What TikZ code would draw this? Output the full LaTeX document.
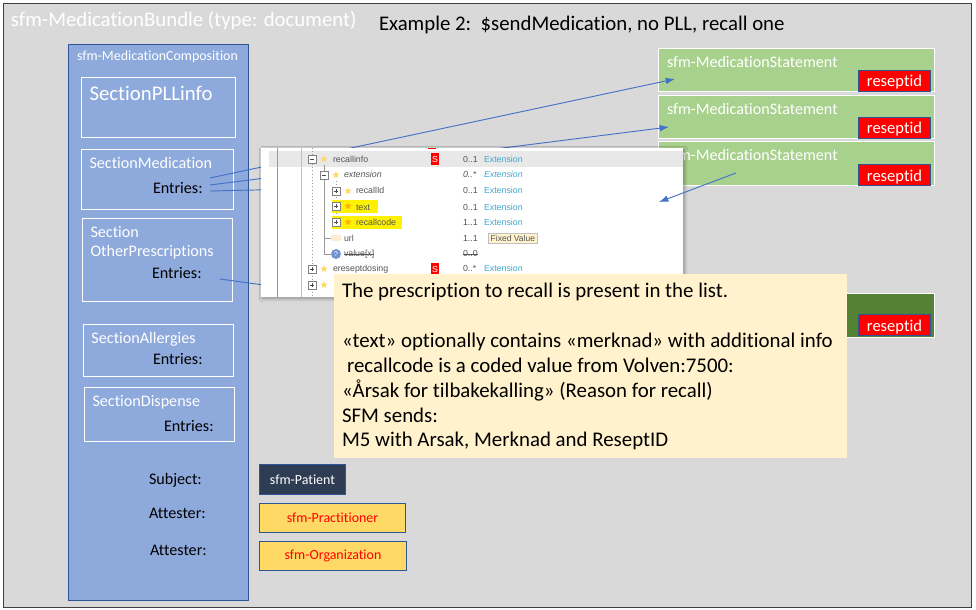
\documentclass[tikz,border=0pt]{standalone}
\usepackage{fontspec}
\setmainfont[Ligatures=NoCommon]{Carlito}
\newfontfamily\shotfont{Liberation Sans}
\usetikzlibrary{shadows,shadows.blur,shapes.geometric,calc,arrows.meta}
\definecolor{bggray}{HTML}{D9D9D9}
\definecolor{blueA}{HTML}{8EA9DB}
\definecolor{blueB}{HTML}{2F5597}
\definecolor{line}{HTML}{4472C4}
\definecolor{greenA}{HTML}{A9D18E}
\definecolor{greenB}{HTML}{548235}
\definecolor{beige}{HTML}{FFF2CC}
\definecolor{navy}{HTML}{2F3D54}
\definecolor{gold}{HTML}{FFD966}
\definecolor{link}{HTML}{3FA9CF}
\definecolor{shottxt}{HTML}{555555}
\tikzset{
  x=0.75pt,y=-0.75pt,
  px/.style={inner sep=0pt,outer sep=0pt},
  box/.style={px,draw=white,line width=0.9pt,fill=none},
  wtxt/.style={px,anchor=base west,text=white},
  btxt/.style={px,anchor=base west,text=black,font=\fontsize{12.1}{13}\selectfont},
  stmt/.style={px,draw=white,line width=0.9pt,fill=greenA},
  rid/.style={px,draw=blueB,line width=0.9pt,fill=red,text=white,font=\fontsize{12.4}{13}\selectfont},
  conn/.style={draw=line,line width=0.7pt},
  arr/.style={conn,-{Latex[length=7pt,width=5pt]}},
  sname/.style={px,anchor=base west,font=\shotfont\fontsize{6.6}{7}\selectfont,text=shottxt},
  scard/.style={px,anchor=base west,font=\shotfont\fontsize{6.6}{7}\selectfont,text=shottxt},
  stype/.style={px,anchor=base west,font=\shotfont\fontsize{6.6}{7}\selectfont,text=link},
  sstar/.style={px,star,star points=5,star point ratio=2.2,minimum size=5.5pt,fill=gold},
  ssq/.style={px,draw=gray,fill=white,minimum size=6pt,line width=0.35pt},
  sflag/.style={px,fill=red,text=white,minimum width=6.5pt,minimum height=9pt,font=\shotfont\fontsize{6.6}{7}\selectfont},
  hl/.style={draw=yellow,line width=9.5pt},
  guide/.style={draw=gray!80,line width=0.4pt},
  note/.style={px,anchor=base west,text=black,font=\fontsize{15.65}{17}\selectfont},
  sect/.style={wtxt,font=\fontsize{12.1}{13}\selectfont},
  stit/.style={wtxt,font=\fontsize{12.05}{13}\selectfont},
  res/.style={px,draw=blueB,line width=0.8pt,font=\fontsize{10.45}{12}\selectfont,anchor=north west},
}
\begin{document}
\begin{tikzpicture}
\useasboundingbox (0,0) rectangle (976,610);
\fill[white] (0,0) rectangle (976,610);
\node[px,draw=black!75,line width=0.7pt,fill=bggray,minimum width=968*0.75pt,minimum height=604*0.75pt,anchor=north west] (bundle) at (3,3) {};
\node[wtxt,font=\fontsize{15.6}{17}\selectfont] (bundletitle) at (11,27) {sfm-MedicationBundle (type: document)};
\node[px,anchor=base west,text=black,font=\fontsize{15.6}{17}\selectfont] (example) at (379,31) {Example 2:\ \ \$sendMedication, no PLL, recall one};

% composition
\node[px,draw=blueB,line width=0.8pt,fill=blueA,minimum width=180*0.75pt,minimum height=556*0.75pt,anchor=north west] (comp) at (68.5,44.5) {};
\node[wtxt,font=\fontsize{10.45}{12}\selectfont] (comptitle) at (77,61) {sfm-MedicationComposition};

\node[box,minimum width=154*0.75pt,minimum height=60*0.75pt,anchor=north west] (pll) at (81.5,77.5) {};
\node[wtxt,font=\fontsize{15.6}{17}\selectfont] (plltxt) at (89.5,101) {SectionPLLinfo};

\node[box,minimum width=152*0.75pt,minimum height=60*0.75pt,anchor=north west] (med) at (81.5,149.5) {};
\node[sect] (medtxt) at (89.5,169) {SectionMedication};
\node[btxt] (medent) at (153,194) {Entries:};

\node[box,minimum width=150*0.75pt,minimum height=83*0.75pt,anchor=north west] (other) at (82.5,218.5) {};
\node[sect] (othertxt) at (90.5,238) {Section};
\node[sect] (othertxtb) at (90.5,257) {OtherPrescriptions};
\node[btxt] (otherent) at (152,278) {Entries:};

\node[box,minimum width=150*0.75pt,minimum height=52*0.75pt,anchor=north west] (all) at (83.5,324.5) {};
\node[sect] (alltxt) at (91.5,343) {SectionAllergies};
\node[btxt] (allent) at (153,364) {Entries:};

\node[box,minimum width=150*0.75pt,minimum height=54*0.75pt,anchor=north west] (disp) at (84.5,387.5) {};
\node[sect] (disptxt) at (92.5,406) {SectionDispense};
\node[btxt] (dispent) at (164,431) {Entries:};

\node[btxt] (subj) at (149,484) {Subject:};
\node[btxt] (att1) at (149,518) {Attester:};
\node[btxt] (att2) at (150,555) {Attester:};

% statements
\node[stmt,minimum width=276*0.75pt,minimum height=43*0.75pt,anchor=north west] (s1) at (658.5,48.5) {};
\node[stmt,minimum width=276*0.75pt,minimum height=43*0.75pt,anchor=north west] (s2) at (658.5,95.5) {};
\node[stmt,minimum width=276*0.75pt,minimum height=44*0.75pt,anchor=north west] (s3) at (658.5,141.5) {};
\node[stmt,fill=greenB,minimum width=276*0.75pt,minimum height=44*0.75pt,anchor=north west] (s4) at (658.5,293.5) {};
\node[stit] (s1t) at (667,68) {sfm-MedicationStatement};
\node[stit] (s2t) at (667,115) {sfm-MedicationStatement};
\node[stit] (s3t) at (667,161) {sfm-MedicationStatement};
\node[rid,minimum width=72*0.75pt,minimum height=21*0.75pt,text depth=0pt,text height=9pt,anchor=center] (r1) at (894.5,81) {reseptid};
\node[rid,minimum width=72*0.75pt,minimum height=21*0.75pt,text depth=0pt,text height=9pt,anchor=center] (r2) at (894.5,128) {reseptid};
\node[rid,minimum width=72*0.75pt,minimum height=21*0.75pt,text depth=0pt,text height=9pt,anchor=center] (r3) at (894.5,175) {reseptid};
\node[rid,minimum width=72*0.75pt,minimum height=21*0.75pt,text depth=0pt,text height=9pt,anchor=center] (r4) at (894.5,325) {reseptid};

% connector ends
\coordinate (e1) at (210,178);
\coordinate (e2) at (210,185);
\coordinate (e3) at (210,191);
\coordinate (e4) at (220,279);
\coordinate (a1) at (675,79);
\coordinate (a2) at (669,127);
\coordinate (a3s) at (736,173);
\coordinate (a3e) at (659,202);
\coordinate (e3e) at (300,189);
\coordinate (e4e) at (300,290);
\draw[arr] (e1) -- (a1);
\draw[arr] (e2) -- (a2);
\draw[conn] (e3) -- (e3e);
\draw[conn] (e4) -- (e4e);

% screenshot
\node[px,fill=white,minimum width=422*0.75pt,minimum height=149*0.75pt,anchor=north west,blur shadow={shadow xshift=1.2pt,shadow yshift=-1.2pt,shadow blur steps=8,shadow blur radius=2.5pt,shadow opacity=35}] (shot) at (261,148) {};
\fill[red] (428,148) rectangle (436,149);
\fill[gray!18] (269,151) rectangle (683,167);
\draw[guide] (277,148) -- (277,297);
\draw[guide,gray!50] (301,148) -- (301,297);
\draw[guide,dotted] (312,148) -- (312,297);
\draw[guide] (324,165) -- (324,254) -- (331,254);
\draw[guide] (324,238) -- (331,238);
\draw[guide,dotted] (336,181) -- (336,222);
\draw[hl] (332,206.5) -- (378,206.5);
\draw[hl] (332,222.5) -- (402,222.5);
\foreach \n/\xx/\yy in {bA/312/159,bB/324/175,bC/336/191,bD/336/206,bE/336/222,bF/312/269,bG/312/285}{
  \node[ssq] (\n) at (\xx,\yy) {};
  \draw[black!70,line width=0.35pt] ($(\n)+(-2.2,0)$) -- ($(\n)+(2.2,0)$);
}
\foreach \n in {bC,bD,bE,bF,bG}{
  \draw[black!70,line width=0.35pt] ($(\n)+(0,-2.2)$) -- ($(\n)+(0,2.2)$);
}
\foreach \n/\xx/\yy/\cc in {stA/324/159/gold,stB/336/175/gold,stC/348/191/gold,stD/348/206/orange!60!yellow,stE/348/222/orange!60!yellow,stF/324/269/gold,stG/324/285/gold}{
  \node[sstar,fill=\cc] (\n) at (\xx,\yy) {};
}
\node[sname] (t1) at (333,162) {recallinfo};
\node[sname,font=\shotfont\itshape\fontsize{6.6}{7}\selectfont] (t2) at (344,178) {extension};
\node[sname] (t3) at (356,194) {recallId};
\node[sname] (t4) at (356,210) {text};
\node[sname] (t5) at (356,225) {recallcode};
\fill[beige!70!orange!40] (331,235) rectangle (341,241);
\node[sname] (t6) at (344,241) {url};
\node[px,circle,fill=line!75,text=white,minimum size=7.5pt,font=\shotfont\fontsize{5}{6}\selectfont] (q) at (336,254) {?};
\node[sname] (t7) at (344,257) {value[x]};
\draw[shottxt,line width=0.4pt] (t7.west) -- (t7.east);
\node[sname] (t8) at (333,272) {ereseptdosing};
\node[sflag] (f1) at (435,159) {S};
\node[sflag] (f2) at (435,269) {S};
\foreach \n/\yy/\c/\ty in {c1/162/0..1/Extension,c3/194/0..1/Extension,c4/210/0..1/Extension,c5/225/1..1/Extension,c8/272/0..*/Extension}{
  \node[scard] (\n) at (463,\yy) {\c};
  \node[stype] (\n x) at (484,\yy) {\ty};
}
\node[scard,font=\shotfont\itshape\fontsize{6.6}{7}\selectfont] (c2) at (463,178) {0..*};
\node[stype,font=\shotfont\itshape\fontsize{6.6}{7}\selectfont] (c2x) at (484,178) {Extension};
\node[scard] (c6) at (463,241) {1..1};
\node[px,draw=gray!50,fill=beige,inner xsep=2pt,inner ysep=1.5pt,font=\shotfont\fontsize{6.4}{7}\selectfont,text=shottxt,anchor=west] (fixed) at (488,238) {Fixed Value};
\node[scard] (c7) at (463,257) {0..0};
\draw[shottxt,line width=0.4pt] (c7.west) -- (c7.east);

% arrow over screenshot
\draw[arr] (a3s) -- (a3e);

% note
\node[px,fill=beige,minimum width=513*0.75pt,minimum height=184*0.75pt,anchor=north west] (notebox) at (334,274) {};
\node[note] (n1) at (342,297) {The prescription to recall is present in the list.};
\node[note] (n2) at (342,347) {«text» optionally contains «merknad» with additional info};
\node[note] (n3) at (347,372) {recallcode is a coded value from Volven:7500:};
\node[note] (n4) at (342,397) {«Årsak for tilbakekalling» (Reason for recall)};
\node[note] (n5) at (342,422) {SFM sends:};
\node[note] (n6) at (342,446) {M5 with Arsak, Merknad and ReseptID};

% resources
\node[res,fill=navy,text=white,minimum width=86*0.75pt,minimum height=30*0.75pt] (pat) at (259.5,464.5) {sfm-Patient};
\node[res,fill=gold,text=red,minimum width=146*0.75pt,minimum height=29*0.75pt] (prac) at (259.5,503.5) {sfm-Practitioner};
\node[res,fill=gold,text=red,minimum width=147*0.75pt,minimum height=29*0.75pt] (org) at (259.5,541.5) {sfm-Organization};
\end{tikzpicture}
\end{document}
